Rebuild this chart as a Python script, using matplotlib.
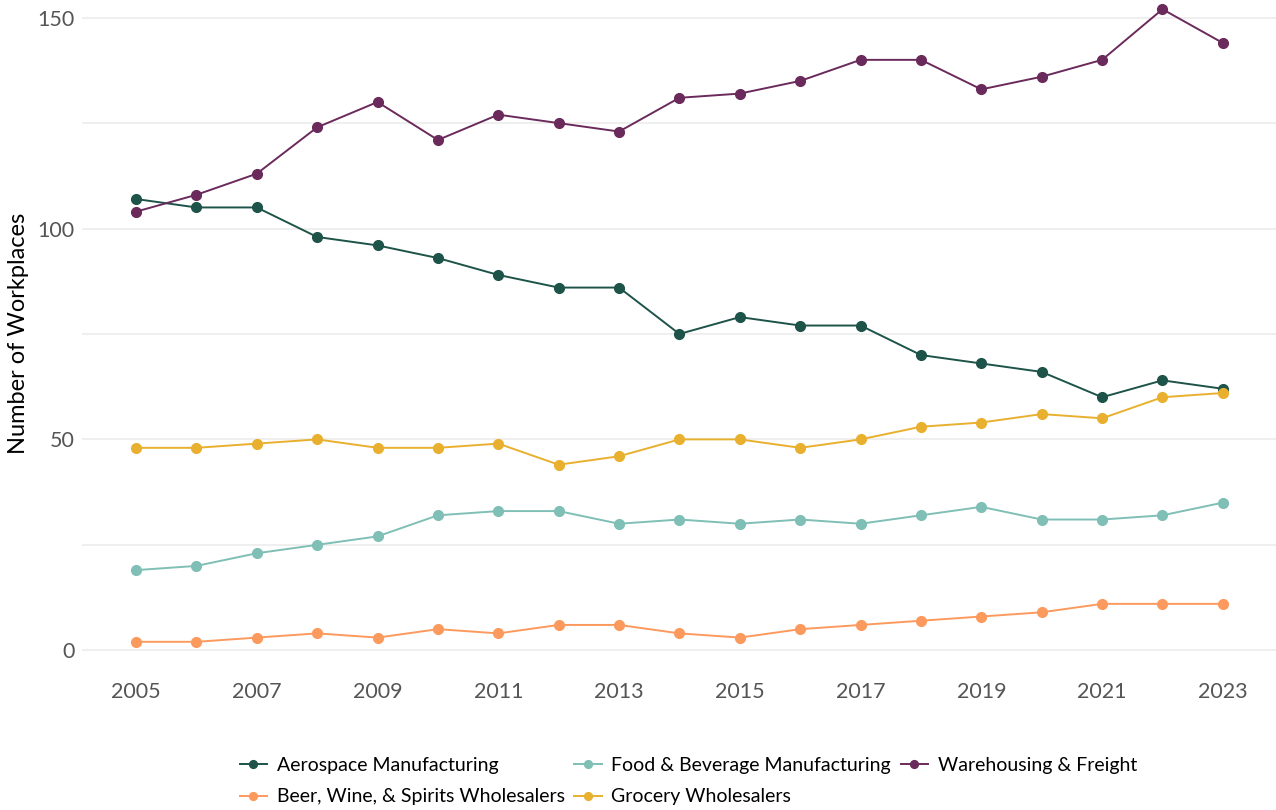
import matplotlib.pyplot as plt

years = list(range(2005, 2024))

aerospace = [107, 105, 105, 98, 96, 93, 89, 86, 86, 75, 79, 77, 77, 70, 68, 66, 60, 64, 62]
food_bev = [19, 20, 23, 25, 27, 32, 33, 33, 30, 31, 30, 31, 30, 32, 34, 31, 31, 32, 35]
warehousing = [104, 108, 113, 124, 130, 121, 127, 125, 123, 131, 132, 135, 140, 140, 133, 136, 140, 152, 144]
beer_wine = [2, 2, 3, 4, 3, 5, 4, 6, 6, 4, 3, 5, 6, 7, 8, 9, 11, 11, 11]
grocery = [48, 48, 49, 50, 48, 48, 49, 44, 46, 50, 50, 48, 50, 53, 54, 56, 55, 60, 61]

series = [
    ("Aerospace Manufacturing", aerospace, "#1d5349"),
    ("Beer, Wine, & Spirits Wholesalers", beer_wine, "#fc9a5e"),
    ("Food & Beverage Manufacturing", food_bev, "#7fbfb5"),
    ("Grocery Wholesalers", grocery, "#e8b02e"),
    ("Warehousing & Freight", warehousing, "#6a2a5b"),
]

plt.rcParams['font.family'] = ['Lato', 'DejaVu Sans']

fig = plt.figure(figsize=(12.76, 8.1), dpi=100)
ax = fig.add_axes([0.064, 0.179, 0.936, 0.82])

for name, vals, col in series:
    ax.plot(years, vals, color=col, lw=1.4, marker='o', ms=7, label=name, zorder=3)

ax.set_xlim(2004.1, 2023.88)
ax.set_ylim(-3.5, 154)
ax.set_xticks(range(2005, 2024, 2))
ax.set_yticks([0, 50, 100, 150])
ax.set_yticks([25, 75, 125], minor=True)
ax.grid(True, axis='y', which='both', color='#ebebeb', lw=1.1, zorder=0)
ax.tick_params(axis='both', which='both', length=0, labelsize=15.5, colors='#555555')
ax.tick_params(axis='x', pad=12)
ax.tick_params(axis='y', pad=5)
for s in ax.spines.values():
    s.set_visible(False)
ax.set_ylabel("Number of Workplaces", fontsize=17, color='black', labelpad=6)

ax.legend(loc='upper center', bbox_to_anchor=(0.508, -0.112), ncol=3, frameon=False,
          fontsize=14, handlelength=1.4, handletextpad=0.5, columnspacing=0.5,
          labelspacing=0.75, markerscale=0.8)

fig.savefig("out.png", dpi=100)
